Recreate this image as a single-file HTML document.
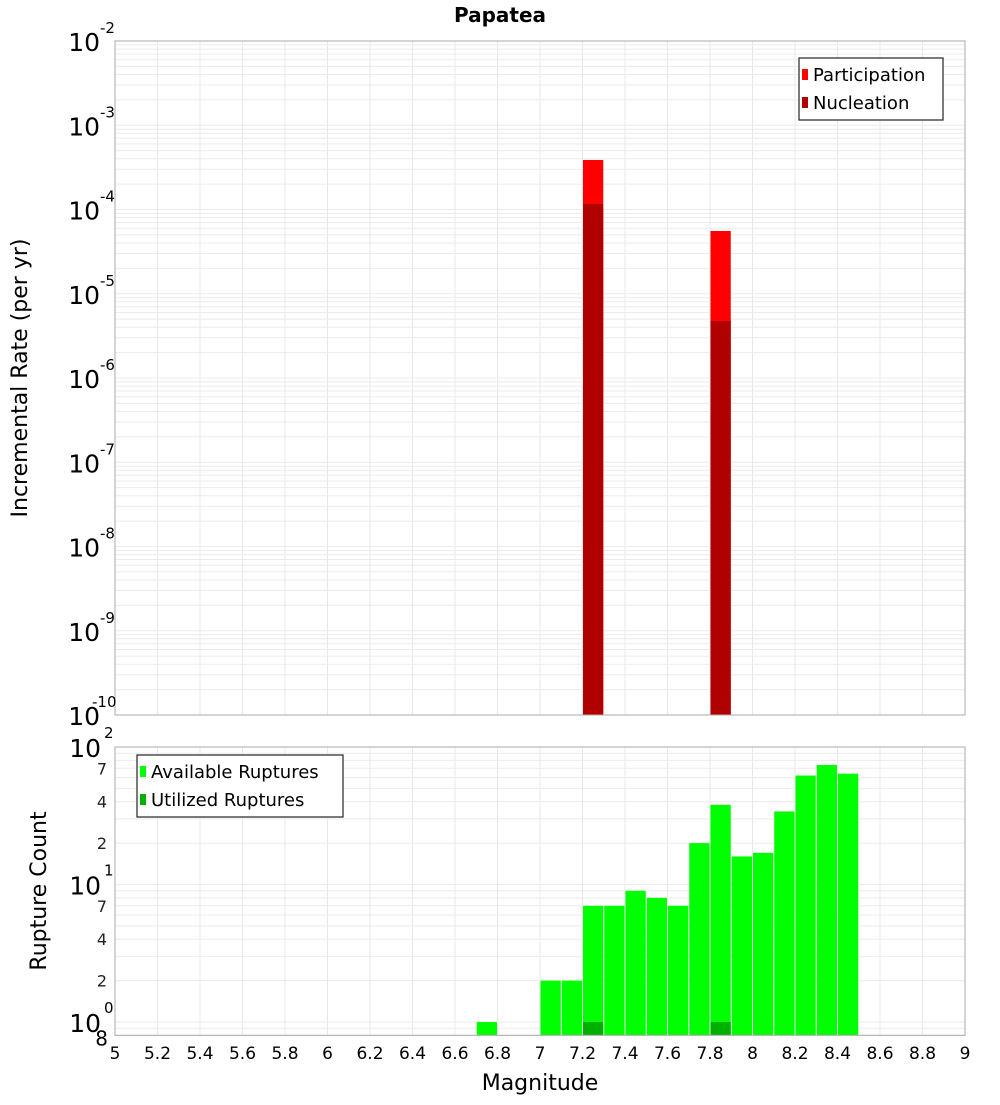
<!DOCTYPE html>
<html><head><meta charset="utf-8"><style>
body{margin:0;background:#fff;}
svg text{font-family:"DejaVu Sans","Liberation Sans",sans-serif;}
</style></head><body>
<svg id="c" width="1000" height="1100" xmlns="http://www.w3.org/2000/svg">
<text x="500" y="22" text-anchor="middle" font-size="20" font-weight="bold">Papatea</text>
<g id="topPlot"></g>
<g id="botPlot"></g>
<text transform="translate(27,378) rotate(-90)" text-anchor="middle" font-size="22">Incremental Rate (per yr)</text>
<text transform="translate(46,891) rotate(-90)" text-anchor="middle" font-size="22">Rupture Count</text>
<text x="540" y="1090" text-anchor="middle" font-size="22">Magnitude</text>
</svg>
<script>
const rateBins=[7.25,7.85];
const participation=[3.87e-4,5.56e-5];
const nucleation=[1.16e-4,4.75e-6];
const countBins=[6.75,7.05,7.15,7.25,7.35,7.45,7.55,7.65,7.75,7.85,7.95,8.05,8.15,8.25,8.35,8.45];
const available=[1,2,2,7,7,9,8,7,20,38,16,17,34,62,74,64];
const utilizedBins=[7.25,7.85];
const utilized=[1,1];
const xTicks=[5,5.2,5.4,5.6,5.8,6,6.2,6.4,6.6,6.8,7,7.2,7.4,7.6,7.8,8,8.2,8.4,8.6,8.8,9];
const rateExps=[-2,-3,-4,-5,-6,-7,-8,-9,-10];
const countExps=[2,1,0];
const countMinorLabels=[7,4,2];

const NS="http://www.w3.org/2000/svg";
const svgEl=document.getElementById('c');
const X0=115,X1=965;
const xs=m=>X0+(m-5)/4*(X1-X0);
const T0=41,T1=715;
const yTop=v=>T0+(-2-Math.log10(v))/8*(T1-T0);
const B0=747,BDEC=137.5;
const yBot=v=>B0+(2-Math.log10(v))*BDEC;
const B1=yBot(0.8);
function mk(tag,attrs,parent,text){const e=document.createElementNS(NS,tag);for(const k in attrs)e.setAttribute(k,attrs[k]);if(text!==undefined)e.textContent=text;(parent||svgEl).appendChild(e);return e;}
const gTop=document.getElementById('topPlot'),gBot=document.getElementById('botPlot');
function vgrid(g,y0,y1){xTicks.forEach(t=>{const l=mk('line',{x1:xs(t),x2:xs(t),y1:y0,y2:y1,stroke:'#e8e8e8','stroke-width':1},g);

});}
vgrid(gTop,T0,T1);vgrid(gBot,B0,B1);
for(let e=-10;e<-2;e++){for(let k=1;k<10;k++){const y=yTop(k*Math.pow(10,e));const l=mk('line',{x1:X0,x2:X1,y1:y,y2:y,stroke:'#ebebeb','stroke-width':1},gTop);

}}
for(let e=-1;e<2;e++){for(let k=1;k<10;k++){const v=k*Math.pow(10,e);const y=yBot(v);if(y<B0-0.5||y>B1)continue;const l=mk('line',{x1:X0,x2:X1,y1:y,y2:y,stroke:'#ebebeb','stroke-width':1},gBot);

}}
const bw=0.1;
function bar(g,m,v,yf,yb,color,name){const x=xs(m-bw/2)+0.5,w=xs(m+bw/2)-xs(m-bw/2)-1;const y=yf(v);const r=mk('rect',{x:x,y:y,width:w,height:yb-y,fill:color},g);

}
rateBins.forEach((m,i)=>bar(gTop,m,participation[i],yTop,T1,'#ff0000','participation-bar'));
rateBins.forEach((m,i)=>bar(gTop,m,nucleation[i],yTop,T1,'#b00000','nucleation-bar'));
countBins.forEach((m,i)=>bar(gBot,m,available[i],yBot,B1,'#00ff00','available-bar'));
utilizedBins.forEach((m,i)=>bar(gBot,m,utilized[i],yBot,B1,'#00b000','utilized-bar'));
mk('rect',{x:X0,y:T0,width:X1-X0,height:T1-T0,fill:'none',stroke:'#aaa'},gTop);
mk('rect',{x:X0,y:B0,width:X1-X0,height:B1-B0,fill:'none',stroke:'#aaa'},gBot);
rateExps.forEach(e=>{const y=yTop(Math.pow(10,e));const t=mk('text',{x:100,y:y+10,'text-anchor':'end','font-size':25},gTop,'10');


const s=mk('text',{x:100,y:y-8,'font-size':15},gTop,String(e));


if(e===-10){s.setAttribute('x',92);}});
countExps.forEach(e=>{const y=yBot(Math.pow(10,e));const t=mk('text',{x:101,y:y+10,'text-anchor':'end','font-size':25},gBot,'10');


const s=mk('text',{x:104,y:y-9,'font-size':15},gBot,String(e));

});
[1,0].forEach(e=>countMinorLabels.forEach(k=>{const y=yBot(k*Math.pow(10,e));const t=mk('text',{x:107,y:y+6,'text-anchor':'end','font-size':16,fill:'#222'},gBot,String(k));

}));
{const t=mk('text',{x:108,y:B1+10,'text-anchor':'end','font-size':20},gBot,'8');

}
xTicks.forEach(t=>{const e=mk('text',{x:xs(t),y:1059,'text-anchor':'middle','font-size':17},svgEl,String(t));

});
function legend(x,y,w,items,name){const g=mk('g',{},svgEl);


mk('rect',{x:x,y:y,width:w,height:items.length*28+6,fill:'#fff',stroke:'#333','stroke-width':1.3},g);
items.forEach((it,i)=>{mk('rect',{x:x+3,y:y+11+i*28,width:6,height:11,fill:it[1]},g);
const t=mk('text',{x:x+14,y:y+23+i*28,'font-size':18},g,it[0]);

});}
legend(799,58,144,[['Participation','#ff0000'],['Nucleation','#b00000']],'rate-legend');
legend(137,755,206,[['Available Ruptures','#00ff00'],['Utilized Ruptures','#00b000']],'count-legend');
</script>
</body></html>
